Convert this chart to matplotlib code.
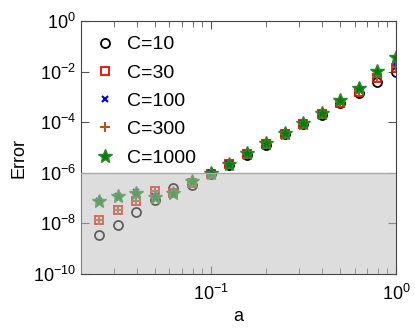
import matplotlib
matplotlib.use("Agg")
import matplotlib.pyplot as plt
from matplotlib.ticker import LogLocator, NullFormatter

plt.rcParams['font.family'] = ['Liberation Sans', 'DejaVu Sans']

# a values (log spaced)
a = [0.0251, 0.0316, 0.0398, 0.0501, 0.0631, 0.0794, 0.1, 0.126, 0.158,
     0.2, 0.251, 0.316, 0.398, 0.501, 0.631, 0.794, 1.0]

# Error for each C
err_c10 = [3.5e-9, 8.7e-9, 2.8e-8, 8.3e-8, 2.6e-7, 3.2e-7, 8.9e-7, 2.1e-6, 5.2e-6,
           1.3e-5, 3.3e-5, 8.3e-5, 1.9e-4, 5.6e-4, 1.4e-3, 3.8e-3, 1.0e-2]
err_c30 = [1.35e-8, 3.3e-8, 7.9e-8, 1.95e-7, 1.6e-7, 3.8e-7, 9.3e-7, 2.2e-6, 5.5e-6,
           1.4e-5, 3.5e-5, 8.7e-5, 2.1e-4, 6.0e-4, 1.6e-3, 5.5e-3, 1.35e-2]
err_c100 = [7.9e-8, 1.2e-7, 1.8e-7, 1.2e-7, 1.5e-7, 4.5e-7, 9.5e-7, 2.2e-6, 5.6e-6,
            1.4e-5, 3.5e-5, 8.9e-5, 2.1e-4, 6.3e-4, 1.9e-3, 7.9e-3, 2.1e-2]
err_c300 = [1.35e-8, 3.3e-8, 7.9e-8, 1.95e-7, 1.6e-7, 4.0e-7, 9.3e-7, 2.2e-6, 5.5e-6,
            1.4e-5, 3.5e-5, 8.7e-5, 2.1e-4, 6.3e-4, 1.8e-3, 6.3e-3, 1.6e-2]
err_c1000 = [7.9e-8, 1.2e-7, 1.6e-7, 1.1e-7, 1.55e-7, 4.9e-7, 1.0e-6, 2.3e-6, 5.8e-6,
             1.45e-5, 3.6e-5, 9.1e-5, 2.4e-4, 7.9e-4, 2.2e-3, 1.05e-2, 3.7e-2]

fig = plt.figure(figsize=(4.15, 3.3), dpi=100)
ax = fig.add_axes([0.195, 0.170, 0.759, 0.766])

ax.plot(a, err_c10, 'o', mfc='none', mec='black', ms=6.5, mew=1.3, label='C=10')
ax.plot(a, err_c30, 's', mfc='none', mec='red', ms=5.5, mew=1.3, label='C=30')
ax.plot(a, err_c100, 'x', color='blue', ms=5, mew=1.5, label='C=100')
ax.plot(a, err_c300, '+', color='#b0541c', ms=7, mew=1.5, label='C=300')
ax.plot(a, err_c1000, '*', color='green', mec='#2a8a2a', ms=10, label='C=1000')

# shaded region below 1e-6, drawn over the points
ax.axhspan(1e-10, 1e-6, color='#bdbdbd', alpha=0.5, lw=0, zorder=5)
ax.axhline(1e-6, color='#aaaaaa', lw=1, zorder=5)

ax.set_xscale('log')
ax.set_yscale('log')
ax.set_xlim(0.02, 1.0)
ax.set_ylim(1e-10, 1.0)
ax.xaxis.set_minor_formatter(NullFormatter())
ax.yaxis.set_major_locator(LogLocator(base=100))
ax.yaxis.set_minor_locator(LogLocator(base=10, numticks=20))
ax.yaxis.set_minor_formatter(NullFormatter())
ax.tick_params(axis='y', which='minor', length=0)
ax.tick_params(which='both', direction='in', top=True, right=True,
               labelsize=13, color='#555555')
ax.tick_params(which='major', length=6)
ax.tick_params(axis='x', which='major', pad=7)
ax.tick_params(which='minor', axis='x', length=4)
ax.set_xlabel('a', fontsize=13, labelpad=3)
ax.set_ylabel('Error', fontsize=13, labelpad=2)
ax.yaxis.set_label_coords(-0.17, 0.46)
for s in ax.spines.values():
    s.set_color('#444444')

leg = ax.legend(loc='upper left', frameon=False, fontsize=14, handletextpad=0.6,
                labelspacing=0.55, handlelength=1.0, borderaxespad=0.35)
leg.set_zorder(10)

fig.savefig('out.png', dpi=100)
